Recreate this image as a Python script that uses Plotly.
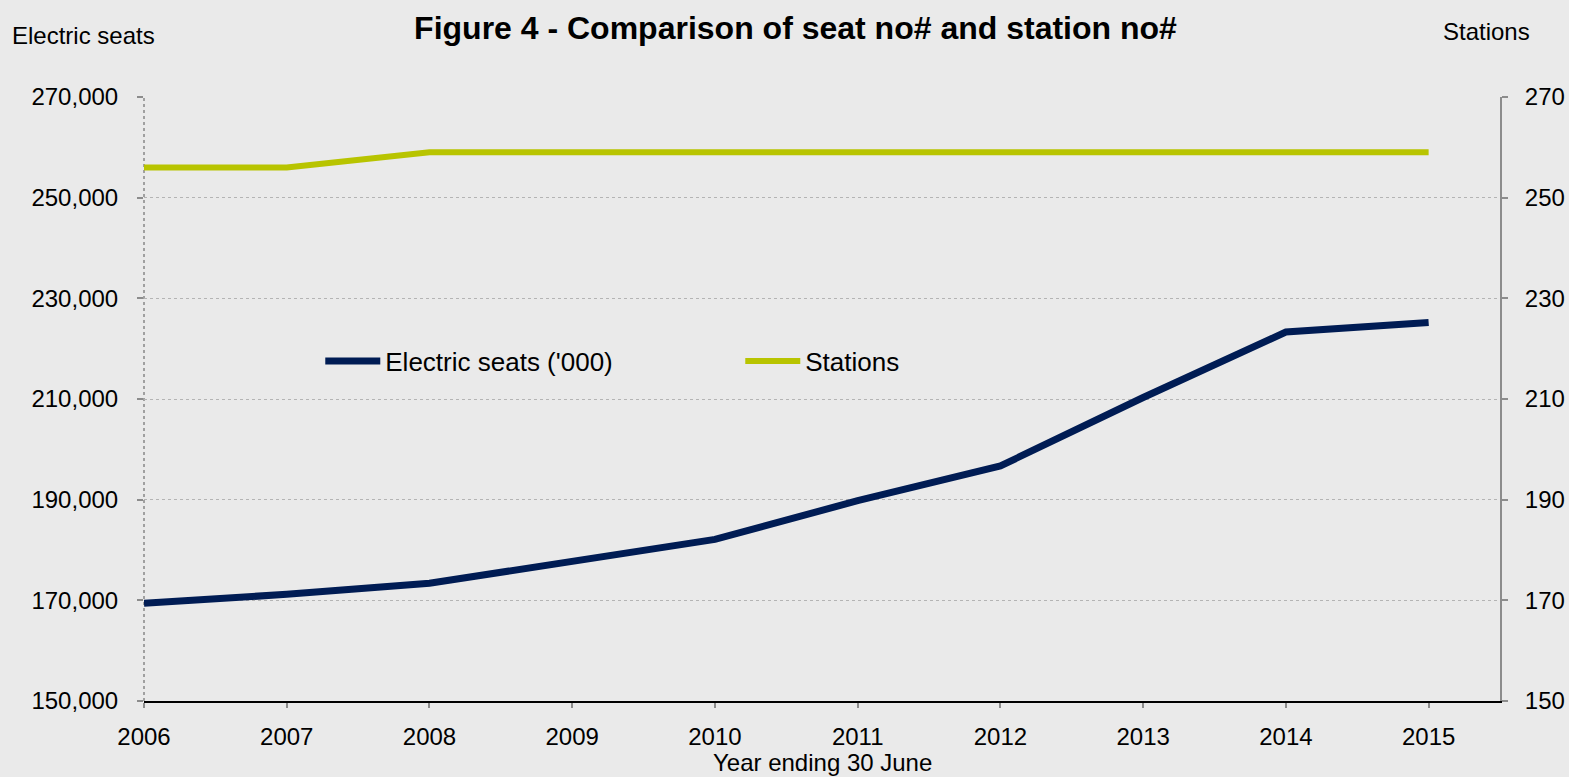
import plotly.graph_objects as go

years = ["2006", "2007", "2008", "2009", "2010", "2011", "2012", "2013", "2014", "2015"]
electric_seats = [169400, 171200, 173400, 177900, 182100, 189800, 196700, 210300, 223300, 225200]
stations = [256, 256, 259, 259, 259, 259, 259, 259, 259, 259]
left_ticks = [150000, 170000, 190000, 210000, 230000, 250000, 270000]
right_ticks = [150, 170, 190, 210, 230, 250, 270]

FONT = "Liberation Sans, Arial, sans-serif"
BG = "#EAEAEA"
NAVY = "#001C54"
LIME = "#B8C400"

fig = go.Figure()
fig.add_trace(go.Scatter(x=years, y=electric_seats, mode="lines", name="Electric seats ('000)",
                         line=dict(color=NAVY, width=7), yaxis="y"))
fig.add_trace(go.Scatter(x=years, y=stations, mode="lines", name="Stations",
                         line=dict(color=LIME, width=6), yaxis="y2"))

fig.update_layout(
    width=1569, height=777,
    paper_bgcolor=BG, plot_bgcolor=BG,
    margin=dict(l=144, r=69, t=97, b=76),
    font=dict(family=FONT, size=24, color="#000000"),
    title=dict(text="<b>Figure 4 - Comparison of seat no# and station no#</b>",
               x=0.507, xanchor="center", y=1 - 28 / 777, yanchor="middle",
               xref="container", yref="container",
               font=dict(family=FONT, size=32, color="#000000")),
    xaxis=dict(type="category", range=[0, 9.5], showgrid=False, zeroline=False,
               automargin=False,
               showline=True, linecolor="#000000", linewidth=1.5,
               ticks="outside", ticklen=5, tickcolor="#8C8C8C", tickwidth=1.5,
               ticklabelstandoff=8),
    yaxis=dict(range=[150000, 270000], tickvals=left_ticks, tickformat=",d",
               automargin=False,
               showgrid=True, gridcolor="#B4B4B4", griddash="dot", gridwidth=1,
               zeroline=False, showline=False,
               ticks="outside", ticklen=6, tickcolor="#8C8C8C", tickwidth=1.5,
               ticklabelstandoff=14),
    yaxis2=dict(range=[150, 270], tickvals=right_ticks, overlaying="y", side="right",
                automargin=False,
                showgrid=False, zeroline=False, showline=True, linecolor="#8C8C8C", linewidth=2,
                ticks="outside", ticklen=6, tickcolor="#8C8C8C", tickwidth=1.5,
                ticklabelstandoff=12),
    legend=dict(orientation="h", x=0.13, xanchor="left", y=(701 - 361) / 604, yanchor="middle",
                bgcolor="rgba(0,0,0,0)", font=dict(size=26), entrywidth=350,
                itemwidth=55),
    showlegend=True,
)

fig.add_shape(type="line", xref="paper", yref="paper", x0=0, x1=0, y0=0, y1=1,
              line=dict(color="#A0A0A0", width=2, dash="dot"), layer="below")

fig.add_annotation(text="Year ending 30 June", xref="paper", yref="paper",
                   x=(822 - 144) / 1356, y=(701 - 762) / 604, xanchor="center", yanchor="middle",
                   showarrow=False, font=dict(size=24), borderpad=0)
fig.add_annotation(text="Electric seats", xref="paper", yref="paper",
                   x=(10 - 144) / 1356, y=(701 - 35) / 604, xanchor="left", yanchor="middle",
                   showarrow=False, font=dict(size=24))
fig.add_annotation(text="Stations", xref="paper", yref="paper",
                   x=(1532 - 144) / 1356, y=(701 - 32) / 604, xanchor="right", yanchor="middle",
                   showarrow=False, font=dict(size=24))

fig.write_html("out.html")
